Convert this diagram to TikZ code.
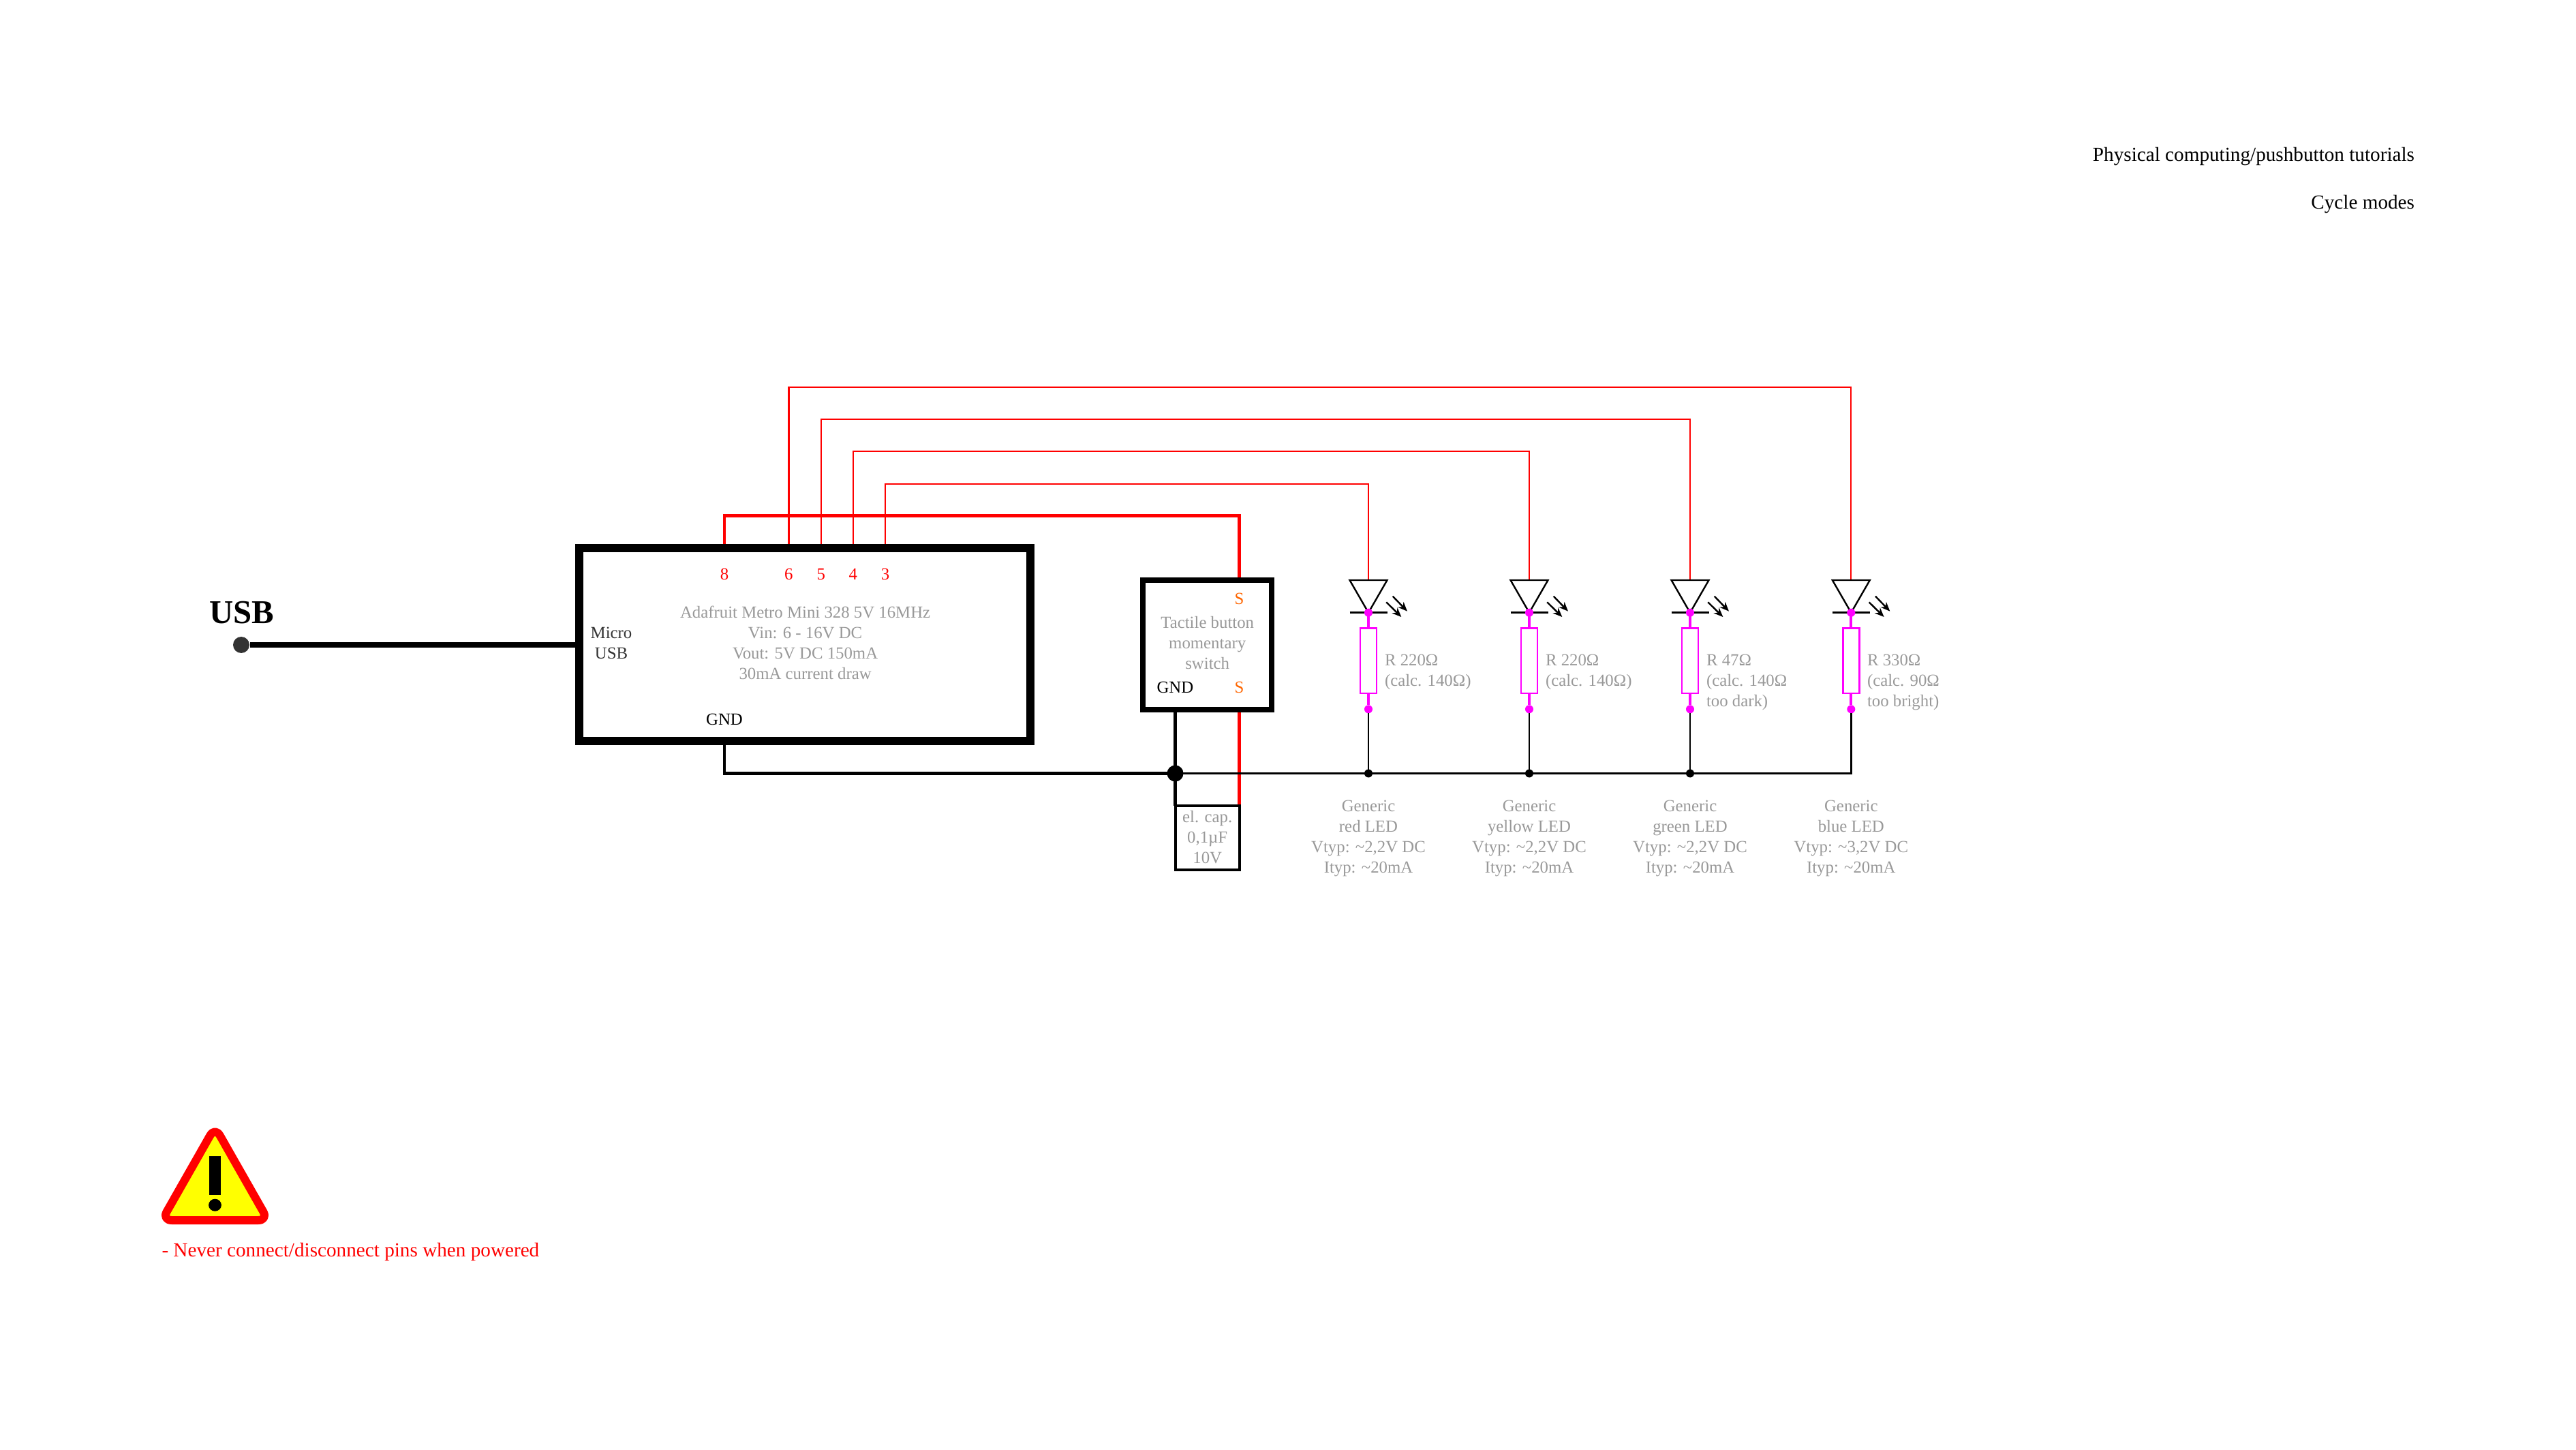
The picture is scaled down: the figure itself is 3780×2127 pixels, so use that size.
\documentclass[tikz,border=0pt]{standalone}
\usepackage{fontspec}
\setmainfont{Liberation Serif}
\usetikzlibrary{arrows.meta}
\definecolor{greytxt}{HTML}{999999}
\definecolor{micro}{HTML}{333333}
\definecolor{orangetxt}{HTML}{FF6600}
\definecolor{puremag}{HTML}{FF00FF}
\definecolor{purered}{HTML}{FF0000}
\definecolor{pureyellow}{HTML}{FFFF00}
\tikzset{
  x=0.25pt,y=-0.25pt,
  txt/.style={inner sep=0pt,outer sep=0pt,anchor=base,align=center,font=\fontsize{6.2pt}{7.5pt}\selectfont},
  greylabel/.style={txt,text=greytxt},
  leftlabel/.style={greylabel,anchor=base west,align=left},
  pinlabel/.style={txt,text=purered},
  swlabel/.style={txt,text=orangetxt},
  heading/.style={inner sep=0pt,outer sep=0pt,anchor=base east,font=\fontsize{7.3pt}{8pt}\selectfont},
  board/.style={draw=black,line width=3pt,fill=white,inner sep=0pt,outer sep=0pt,minimum width=165.5pt,minimum height=70.75pt},
  tactile/.style={draw=black,line width=2pt,fill=white,inner sep=0pt,outer sep=0pt,minimum width=47.25pt,minimum height=47.25pt},
  capbox/.style={draw=black,line width=1pt,fill=white,inner sep=0pt,outer sep=0pt,minimum width=23.5pt,minimum height=23.5pt},
  resbox/.style={draw=puremag,line width=0.6pt,fill=white,inner sep=0pt,outer sep=0pt,minimum width=6pt,minimum height=23.75pt},
  thinred/.style={draw=purered,line width=0.55pt},
  thickred/.style={draw=purered,line width=1.1pt},
  gndthick/.style={draw=black,line width=1.1pt},
  gndthin/.style={draw=black,line width=0.65pt},
  magline/.style={draw=puremag,line width=1pt},
  ledline/.style={draw=black,line width=0.6pt,fill=white,line join=miter},
  photon/.style={draw=black,line width=0.6pt,-{Stealth[length=3.4pt,width=2.8pt]}},
  magdot/.style={circle,fill=puremag,inner sep=0pt,minimum size=3pt,outer sep=0pt},
  blackdot/.style={circle,fill=black,inner sep=0pt,minimum size=3pt,outer sep=0pt},
  junction/.style={circle,fill=black,inner sep=0pt,minimum size=6pt,outer sep=0pt},
}
\begin{document}
\begin{tikzpicture}
\useasboundingbox (0,0) rectangle (3780,2127);
% heading
\node[heading] (title1) at (3543,236.7) {Physical computing/pushbutton tutorials};
\node[heading] (title2) at (3543,306.7) {Cycle modes};
% USB
\node[circle,fill=micro,inner sep=0pt,minimum size=6pt] (usbdot) at (354,946) {};
\node[inner sep=0pt,anchor=base,font=\fontsize{12.2pt}{14pt}\selectfont\bfseries] (usblabel) at (354.5,915) {USB};
% anchors
\coordinate (pin8) at (1063,804);
\coordinate (pin6) at (1157.4,804);
\coordinate (pin5) at (1204.7,804);
\coordinate (pin4) at (1251.8,804);
\coordinate (pin3) at (1299,804);
\coordinate (gndpin) at (1063,1087);
\coordinate (mainwest) at (850,946);
\coordinate (corner8) at (1063,756.7);
\coordinate (swsig) at (1818.6,851.5);
\coordinate (swsigb) at (1818.6,1040.5);
\coordinate (swgnd) at (1724.5,1040.5);
\coordinate (capgnd) at (1724.5,1182);
\coordinate (capsig) at (1818.6,1182);
\node[junction] (jn) at (1724.5,1134.5) {};
% LEDs
\foreach \n/\xx/\yy in {a/2008/709.7,b/2244/662.3,c/2480/615.3,d/2716.3/568}{
  \coordinate (ledtop-\n) at (\xx,851);
  \coordinate (ledtip-\n) at (\xx,898.7);
  \coordinate (wire-\n) at (\xx,\yy);
  \node[magdot] (dot-\n) at (\xx,1040.3) {};
  \coordinate (gnd-\n) at (\xx,1134.5);
}
% signal wires
\draw[thickred] (pin8) -- (corner8) -| (swsig);
\draw[thickred] (swsigb) -- (capsig);
\draw[thinred] (pin6) |- (wire-d) -- (ledtop-d);
\draw[thinred] (pin5) |- (wire-c) -- (ledtop-c);
\draw[thinred] (pin4) |- (wire-b) -- (ledtop-b);
\draw[thinred] (pin3) |- (wire-a) -- (ledtop-a);
% ground
\draw[gndthick] (gndpin) |- (jn.center);
\draw[gndthick] (swgnd) -- (capgnd);
\draw[gndthin] (jn.center) -- (gnd-d) -- (dot-d);
\draw[gndthin] (dot-a) -- (gnd-a);
\draw[gndthin] (dot-b) -- (gnd-b);
\draw[gndthin] (dot-c) -- (gnd-c);
\node[blackdot] at (gnd-a) {};
\node[blackdot] at (gnd-b) {};
\node[blackdot] at (gnd-c) {};
\draw[line width=2pt] (usbdot) -- (mainwest);
% boxes over wires
\node[board] (main) at (1181,945.5) {};
\node[tactile] (sw) at (1771.7,946) {};
\node[capbox] (cap) at (1771.5,1229) {};
% LED symbols
\foreach \n/\xx in {a/2008,b/2244,c/2480,d/2716.3}{
  \draw[magline] (ledtip-\n) -- (dot-\n);
  \node[resbox] (res-\n) at (\xx,969.2) {};
  \draw[ledline] (\xx-27.5,851) -- (\xx+27.5,851) -- (\xx,898.7) -- cycle;
  \draw[ledline] (\xx-27.5,898.7) -- (\xx+27.5,898.7);
  \node[magdot] at (ledtip-\n) {};
  \draw[photon] (\xx+26.3,883.4) -- (\xx+48.3,905);
  \draw[photon] (\xx+35.7,874.7) -- (\xx+57,896.7);
}
% pin labels
\node[pinlabel] at (1063,850.7) {8};
\node[pinlabel] at (1157.4,850.7) {6};
\node[pinlabel] at (1204.7,850.7) {5};
\node[pinlabel] at (1251.8,850.7) {4};
\node[pinlabel] at (1299,850.7) {3};
% board labels
\node[greylabel] (mainlab) at (1181.6,996.7) {Adafruit Metro Mini 328 5V 16MHz\\Vin: 6 - 16V DC\\Vout: 5V DC 150mA\\30mA current draw};
\node[txt,text=micro] (microlab) at (897,966.7) {Micro\\USB};
\node[txt] (gndlab) at (1063,1063.3) {GND};
% switch labels
\node[swlabel] at (1818.6,886.7) {S};
\node[swlabel] at (1818.6,1016.7) {S};
\node[txt] at (1724.4,1016.7) {GND};
\node[greylabel] at (1771.7,981.7) {Tactile button\\momentary\\switch};
\node[greylabel] at (1771.7,1266.7) {el. cap.\\0,1µF\\10V};
% resistor labels
\node[leftlabel] at (2032,1006) {R 220Ω\\(calc. 140Ω)};
\node[leftlabel] at (2268,1006) {R 220Ω\\(calc. 140Ω)};
\node[leftlabel] at (2504,1036.7) {R 47Ω\\(calc. 140Ω\\too dark)};
\node[leftlabel] at (2740,1036.7) {R 330Ω\\(calc. 90Ω\\too bright)};
% LED labels
\node[greylabel] at (2008,1280.7) {Generic\\red LED\\Vtyp: \textasciitilde2,2V DC\\Ityp: \textasciitilde20mA};
\node[greylabel] at (2244,1280.7) {Generic\\yellow LED\\Vtyp: \textasciitilde2,2V DC\\Ityp: \textasciitilde20mA};
\node[greylabel] at (2480,1280.7) {Generic\\green LED\\Vtyp: \textasciitilde2,2V DC\\Ityp: \textasciitilde20mA};
\node[greylabel] at (2716.3,1280.7) {Generic\\blue LED\\Vtyp: \textasciitilde3,2V DC\\Ityp: \textasciitilde20mA};
% warning sign
\draw[draw=purered,fill=pureyellow,line width=3pt,rounded corners=3.6pt,line join=round] (315.5,1653) -- (393.5,1790) -- (237.5,1790) -- cycle;
\fill[black] (307,1696) rectangle (324,1752.7);
\fill[black] (315.5,1767.7) ellipse [x radius=2.35pt,y radius=2.25pt];
\node[inner sep=0pt,anchor=base west,text=purered,font=\fontsize{7.3pt}{8pt}\selectfont] (warn) at (236.7,1843.3) {- Never connect/disconnect pins when powered};
\end{tikzpicture}
\end{document}
